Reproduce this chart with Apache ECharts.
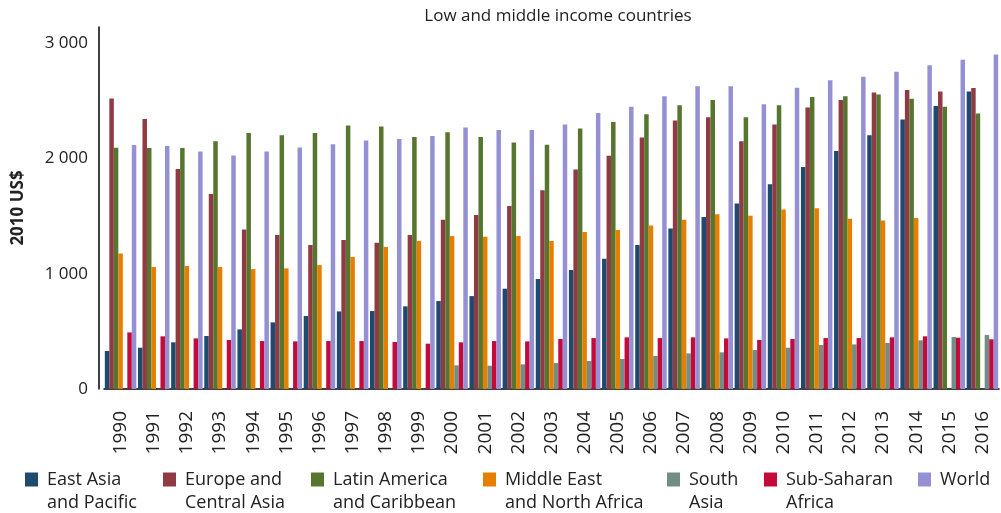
<!DOCTYPE html>
<html>
<head>
<meta charset="utf-8">
<script src="https://cdn.jsdelivr.net/npm/echarts@6/dist/echarts.min.js"></script>
<style>
  html, body { margin: 0; padding: 0; background: #fff; }
  #chart { width: 1001px; height: 513px; }
</style>
</head>
<body>
<div id="chart"></div>
<script>
// years on the x axis
const years = [];
for (let y = 1990; y <= 2016; y++) years.push(String(y));

// region names (series) and how the legend breaks them
const seriesNames = [
  "East Asia and Pacific",
  "Europe and Central Asia",
  "Latin America and Caribbean",
  "Middle East and North Africa",
  "South Asia",
  "Sub-Saharan Africa",
  "World",
];
const legendLabels = [
  "East Asia\nand Pacific",
  "Europe and\nCentral Asia",
  "Latin America\nand Caribbean",
  "Middle East\nand North Africa",
  "South\nAsia",
  "Sub-Saharan\nAfrica",
  "World",
];

// values in 2010 US$
const eastAsia = [330, 358, 405, 460, 517, 578, 633, 673, 676, 717, 763, 806, 870, 954, 1032, 1130, 1249, 1393, 1491, 1610, 1775, 1925, 2064, 2202, 2338, 2454, 2581];
const europe = [2520, 2341, 1908, 1691, 1384, 1335, 1249, 1292, 1269, 1335, 1468, 1509, 1587, 1725, 1905, 2023, 2182, 2330, 2358, 2148, 2295, 2442, 2506, 2572, 2593, 2581, 2610];
const latinAmerica = [2093, 2090, 2090, 2148, 2220, 2200, 2220, 2286, 2278, 2185, 2228, 2185, 2139, 2119, 2260, 2315, 2384, 2462, 2506, 2358, 2462, 2532, 2540, 2555, 2517, 2448, 2390];
const middleEast = [1176, 1058, 1067, 1058, 1040, 1046, 1075, 1145, 1231, 1283, 1327, 1321, 1327, 1283, 1361, 1379, 1419, 1468, 1515, 1503, 1558, 1567, 1477, 1462, 1483, null, null];
const southAsia = [null, null, null, null, null, null, null, null, null, null, 205, 202, 214, 225, 243, 260, 286, 309, 318, 338, 358, 382, 387, 399, 422, 451, 468];
const subSaharan = [491, 457, 439, 425, 416, 413, 416, 416, 408, 393, 405, 416, 413, 434, 442, 448, 442, 448, 439, 425, 434, 442, 442, 448, 457, 445, 431];
const world = [2116, 2107, 2061, 2026, 2061, 2095, 2124, 2156, 2168, 2194, 2269, 2246, 2246, 2295, 2393, 2448, 2540, 2627, 2627, 2471, 2613, 2679, 2708, 2752, 2809, 2856, 2902];

const seriesData = [eastAsia, europe, latinAmerica, middleEast, southAsia, subSaharan, world];
const colors = ["#1d4a6f", "#903a44", "#56752f", "#e67f00", "#718d86", "#c50a3b", "#9590d4"];
const legendLeft = [25, 163, 311, 483, 667, 764, 918];

const font = "'Open Sans', sans-serif";

const chart = echarts.init(document.getElementById("chart"));

// legend text is centred on the icon, so a blank line on top keeps
// the first line level with the square
function legendText(i) {
  const label = legendLabels[i];
  return label.indexOf("\n") >= 0 ? "\n" + label : label;
}

const option = {
  animation: false,
  color: colors,
  title: {
    text: "Low and middle income countries",
    left: 553,
    top: 3,
    textAlign: "center",
    textStyle: { fontFamily: font, fontSize: 17, fontWeight: "normal", color: "#222" },
  },
  legend: seriesNames.map((name, i) => {
    const twoLines = legendLabels[i].indexOf("\n") >= 0;
    return {
      data: [name],
      left: legendLeft[i],
      top: twoLines ? 445 : 468,
      padding: 0,
      icon: "rect",
      itemWidth: 13,
      itemHeight: 14,
      itemGap: 0,
      selectedMode: false,
      formatter: () => legendText(i),
      textStyle: {
        fontFamily: font,
        fontSize: 18,
        lineHeight: 23,
        color: "#222",
        padding: [0, 0, 0, 4],
      },
    };
  }),
  grid: {
    left: 104,
    right: 2,
    top: 27,
    bottom: 124,
    outerBoundsMode: "none",
  },
  xAxis: {
    type: "category",
    data: years,
    axisLine: { lineStyle: { color: "#000", width: 1.5 } },
    axisTick: { show: false },
    axisLabel: {
      rotate: 90,
      interval: 0,
      margin: 22,
      fontFamily: font,
      fontSize: 19,
      color: "#222",
    },
  },
  yAxis: {
    type: "value",
    min: 0,
    max: 3140,
    interval: 1000,
    offset: 5,
    name: "2010 US$",
    nameLocation: "middle",
    nameGap: 72,
    nameTextStyle: { fontFamily: font, fontSize: 17, fontWeight: "bold", color: "#222" },
    axisLine: { show: true, lineStyle: { color: "#000", width: 1.5 } },
    axisTick: { show: false },
    splitLine: { show: false },
    axisLabel: {
      showMaxLabel: false,
      margin: 11,
      fontFamily: font,
      fontSize: 17,
      color: "#222",
      formatter: (v) => String(v).replace(/\B(?=(\d{3})+(?!\d))/g, " "),
    },
  },
  series: seriesNames.map((name, i) => ({
    name: name,
    type: "bar",
    data: seriesData[i],
    barGap: "0%",
    barCategoryGap: "5%",
  })),
};

chart.setOption(option);
</script>
</body>
</html>
